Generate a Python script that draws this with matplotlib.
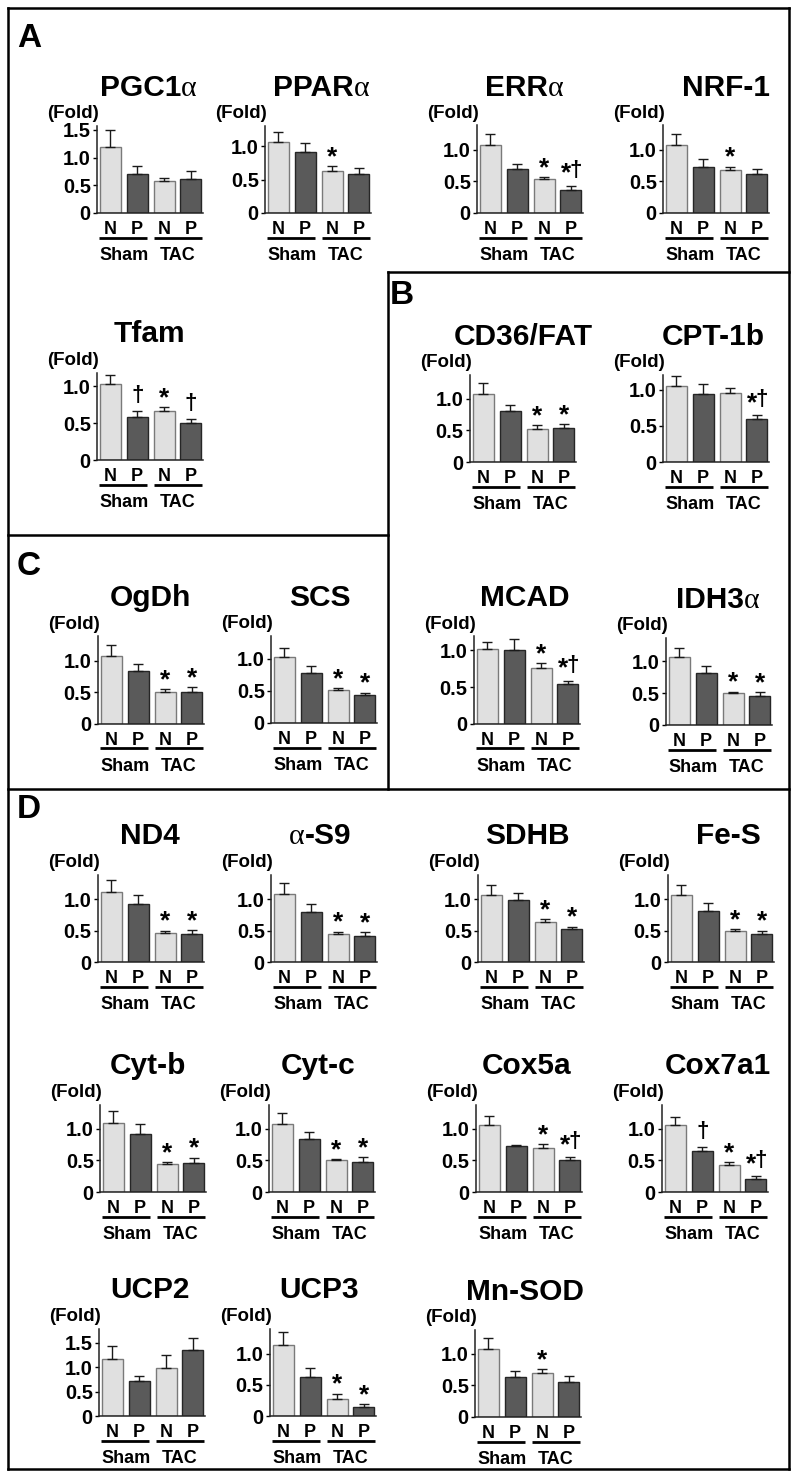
import matplotlib
matplotlib.use('Agg')
import matplotlib.pyplot as plt
from matplotlib.lines import Line2D
import numpy as np

plt.rcParams['font.family'] = ['Liberation Sans', 'DejaVu Sans']
plt.rcParams['font.weight'] = 'bold'

# ---------------- data ----------------
genes = ['PGC1\u03b1', 'PPAR\u03b1', 'ERR\u03b1', 'NRF-1', 'Tfam',
         'CD36/FAT', 'CPT-1b', 'OgDh', 'SCS', 'MCAD', 'IDH3\u03b1',
         'ND4', '\u03b1-S9', 'SDHB', 'Fe-S', 'Cyt-b', 'Cyt-c', 'Cox5a',
         'Cox7a1', 'UCP2', 'UCP3', 'Mn-SOD']
bar_labels = ['N', 'P', 'N', 'P']
group_labels = ['Sham', 'TAC']
panel_letters = ['A', 'B', 'C', 'D']

mean_fold = [
    [1.19, 0.71, 0.58, 0.61],  # PGC1a
    [1.07, 0.92, 0.63, 0.59],  # PPARa
    [1.08, 0.69, 0.53, 0.37],  # ERRa
    [1.07, 0.73, 0.68, 0.62],  # NRF-1
    [1.04, 0.59, 0.67, 0.50],  # Tfam
    [1.07, 0.80, 0.52, 0.54],  # CD36/FAT
    [1.05, 0.94, 0.96, 0.60],  # CPT-1b
    [1.07, 0.84, 0.50, 0.51],  # OgDh
    [1.02, 0.77, 0.52, 0.44],  # SCS
    [1.02, 1.00, 0.76, 0.54],  # MCAD
    [1.06, 0.81, 0.50, 0.46],  # IDH3a
    [1.11, 0.92, 0.46, 0.45],  # ND4
    [1.08, 0.79, 0.45, 0.42],  # a-S9
    [1.07, 0.99, 0.63, 0.52],  # SDHB
    [1.06, 0.81, 0.49, 0.45],  # Fe-S
    [1.09, 0.92, 0.44, 0.46],  # Cyt-b
    [1.07, 0.83, 0.50, 0.48],  # Cyt-c
    [1.05, 0.73, 0.70, 0.50],  # Cox5a
    [1.05, 0.65, 0.42, 0.21],  # Cox7a1
    [1.17, 0.72, 0.99, 1.34],  # UCP2
    [1.14, 0.62, 0.27, 0.15],  # UCP3
    [1.08, 0.63, 0.70, 0.55],  # Mn-SOD
]
sem_fold = [
    [0.31, 0.13, 0.06, 0.15],
    [0.14, 0.13, 0.07, 0.08],
    [0.17, 0.08, 0.04, 0.06],
    [0.17, 0.12, 0.05, 0.07],
    [0.11, 0.07, 0.05, 0.06],
    [0.18, 0.10, 0.06, 0.06],
    [0.14, 0.14, 0.06, 0.05],
    [0.18, 0.10, 0.05, 0.07],
    [0.14, 0.11, 0.02, 0.03],
    [0.09, 0.15, 0.07, 0.05],
    [0.14, 0.11, 0.02, 0.05],
    [0.20, 0.15, 0.04, 0.06],
    [0.17, 0.13, 0.03, 0.05],
    [0.16, 0.11, 0.05, 0.04],
    [0.16, 0.13, 0.03, 0.05],
    [0.19, 0.15, 0.03, 0.08],
    [0.17, 0.12, 0.02, 0.07],
    [0.15, 0.01, 0.05, 0.05],
    [0.13, 0.06, 0.05, 0.04],
    [0.26, 0.09, 0.25, 0.26],
    [0.20, 0.15, 0.09, 0.04],
    [0.17, 0.10, 0.05, 0.09],
]
signif = [
    ['', '', '', ''],
    ['', '', '*', ''],
    ['', '', '*', '*\u2020'],
    ['', '', '*', ''],
    ['', '\u2020', '*', '\u2020'],
    ['', '', '*', '*'],
    ['', '', '', '*\u2020'],
    ['', '', '*', '*'],
    ['', '', '*', '*'],
    ['', '', '*', '*\u2020'],
    ['', '', '*', '*'],
    ['', '', '*', '*'],
    ['', '', '*', '*'],
    ['', '', '*', '*'],
    ['', '', '*', '*'],
    ['', '', '*', '*'],
    ['', '', '*', '*'],
    ['', '', '*', '*\u2020'],
    ['', '\u2020', '*', '*\u2020'],
    ['', '', '', ''],
    ['', '', '*', '*'],
    ['', '', '*', ''],
]
y_ticks = [[0, 0.5, 1.0, 1.5] if g in ('PGC1\u03b1', 'UCP2') else [0, 0.5, 1.0]
           for g in genes]

# ---------------- layout (pixels) ----------------
W, H = 797, 1484
DPI = 100
AX_W, AX_H = 106.0, 87.5
XLIM = (-0.5, 3.45)
TITLE_FS = 21.5
# (axis left px, axis baseline px, y max, title x shift px)
layout = [
    (97, 213, 1.58, -2), (265, 213, 1.31, 3), (477, 213, 1.38, -6), (663, 213, 1.38, 10),
    (97, 460, 1.19, -1), (470, 462, 1.38, 0), (663, 462, 1.21, -3),
    (98, 724, 1.38, -1), (271, 723, 1.36, -4), (474, 724, 1.19, -2), (666, 725, 1.37, -1),
    (98, 962, 1.39, -1), (271, 962, 1.39, -4), (478, 962, 1.39, -4), (668, 962, 1.39, 7),
    (100, 1192, 1.38, -5), (269, 1192, 1.38, -4), (476, 1192, 1.38, -2), (662, 1192, 1.38, 3),
    (99, 1416, 1.79, -2), (270, 1416, 1.40, -4), (475, 1417, 1.38, -3),
]
letter_pos = [(17, 23), (390, 280), (17, 551), (17, 794)]

LIGHT, LIGHT_EDGE = '#e0e0e0', '#7a7a7a'
DARK, DARK_EDGE = '#5a5a5a', '#262626'
bar_face = [LIGHT, DARK, LIGHT, DARK]
bar_edge = [LIGHT_EDGE, DARK_EDGE, LIGHT_EDGE, DARK_EDGE]

def pt(px):
    return px * 72.0 / DPI

fig = plt.figure(figsize=(W / DPI, H / DPI), dpi=DPI)
fig.patch.set_facecolor('white')
renderer = fig.canvas.get_renderer()

def piece_style(piece):
    if piece == '\u03b1':
        return dict(family=['Liberation Serif', 'DejaVu Serif'], weight='normal',
                    size=TITLE_FS)
    return dict(family=['Liberation Sans', 'DejaVu Sans'], weight='bold',
                size=TITLE_FS)

def split_title(s):
    pieces, cur = [], ''
    for ch in s:
        if ch == '\u03b1':
            if cur:
                pieces.append(cur)
                cur = ''
            pieces.append(ch)
        else:
            cur += ch
    if cur:
        pieces.append(cur)
    return pieces

def text_width_px(piece):
    t = fig.text(0, 0, piece, **piece_style(piece))
    w = t.get_window_extent(renderer).width
    t.remove()
    return w

def draw_title(ax, s, tdx):
    pieces = split_title(s)
    widths = [text_width_px(p) for p in pieces]
    xcur = tdx - sum(widths) / 2.0
    for p, w in zip(pieces, widths):
        st = piece_style(p)
        ax.annotate(p, xy=(0.5, 0), xycoords='axes fraction',
                    xytext=(pt(xcur), pt(117.5)), textcoords='offset points',
                    ha='left', va='baseline', fontsize=st['size'],
                    fontweight=st['weight'], fontfamily=st['family'])
        xcur += w

x = np.arange(4)
for k, gene in enumerate(genes):
    left, base, ymax, tdx = layout[k]
    ax = fig.add_axes([left / W, 1 - base / H, AX_W / W, AX_H / H])
    means = np.array(mean_fold[k])
    sems = np.array(sem_fold[k])
    ax.bar(x, means, width=0.78, color=bar_face, edgecolor=bar_edge,
           linewidth=1.0, zorder=2)
    ax.errorbar(x, means, yerr=[np.zeros(4), sems], fmt='none',
                ecolor='#1a1a1a', elinewidth=1.0, capsize=3.5, capthick=1.0,
                zorder=3)
    ax.set_xlim(*XLIM)
    ax.set_ylim(0, ymax)
    ax.set_yticks(y_ticks[k])
    ax.set_yticklabels(['0' if v == 0 else f'{v:.1f}' for v in y_ticks[k]],
                       fontsize=14.5, fontweight='bold')
    ax.set_xticks([])
    ax.tick_params(axis='y', direction='out', length=3, width=1.0, pad=1.5,
                   colors='black')
    for s in ('top', 'right'):
        ax.spines[s].set_visible(False)
    for s in ('left', 'bottom'):
        ax.spines[s].set_linewidth(1.1)
        ax.spines[s].set_color('#222222')
    ax.patch.set_alpha(0)

    # title and unit label
    draw_title(ax, gene, tdx)
    ax.annotate('(Fold)', xy=(0, 0), xycoords='axes fraction',
                xytext=(pt(2), pt(95)), textcoords='offset points',
                ha='right', va='baseline', fontsize=13.5, fontweight='bold')

    # group labels under axis
    for i, lab in enumerate(bar_labels):
        ax.annotate(lab, xy=(i, 0), xycoords=('data', 'axes fraction'),
                    xytext=(0, -pt(21)), textcoords='offset points',
                    ha='center', va='baseline', fontsize=13,
                    fontweight='bold', annotation_clip=False)
    for (x0, x1), glab, gx in zip([(-0.43, 1.38), (1.62, 3.43)],
                                  group_labels, [0.5, 2.5]):
        ax.plot([x0, x1], [-24.5 / AX_H] * 2, color='black', lw=2.0,
                transform=ax.get_xaxis_transform(), clip_on=False,
                solid_capstyle='butt')
        ax.annotate(glab, xy=(gx, 0), xycoords=('data', 'axes fraction'),
                    xytext=(0, -pt(47)), textcoords='offset points',
                    ha='center', va='baseline', fontsize=13,
                    fontweight='bold', annotation_clip=False)

    # significance marks
    for i, mark in enumerate(signif[k]):
        if not mark:
            continue
        top = means[i] + sems[i]
        if mark == '*':
            parts = [('*', 0, 2)]
        elif mark == '\u2020':
            parts = [('\u2020', 0, 10)]
        else:
            parts = [('*', -5, 5), ('\u2020', 5, 10)]
        for sym, dx, dy in parts:
            ax.annotate(sym, xy=(i, top), xycoords='data',
                        xytext=(pt(dx), pt(dy)), textcoords='offset points',
                        ha='center', va='baseline',
                        fontsize=19 if sym == '*' else 16,
                        fontweight='bold', annotation_clip=False)

# panel frames
def hline(y, x0, x1):
    fig.add_artist(Line2D([x0 / W, x1 / W], [1 - y / H, 1 - y / H],
                          transform=fig.transFigure, color='black', lw=1.8,
                          solid_capstyle='projecting'))

def vline(xp, y0, y1):
    fig.add_artist(Line2D([xp / W, xp / W], [1 - y0 / H, 1 - y1 / H],
                          transform=fig.transFigure, color='black', lw=1.8,
                          solid_capstyle='projecting'))

hline(8, 8, 789)
hline(1469, 8, 789)
vline(8, 8, 1469)
vline(789, 8, 1469)
hline(272, 388, 789)
vline(388, 272, 789)
hline(535, 8, 388)
hline(789, 8, 789)

for letter, (lx, ly) in zip(panel_letters, letter_pos):
    fig.text(lx / W, 1 - ly / H, letter, ha='left', va='top',
             fontsize=24, fontweight='bold')

fig.savefig('out.png', dpi=DPI, facecolor='white')
